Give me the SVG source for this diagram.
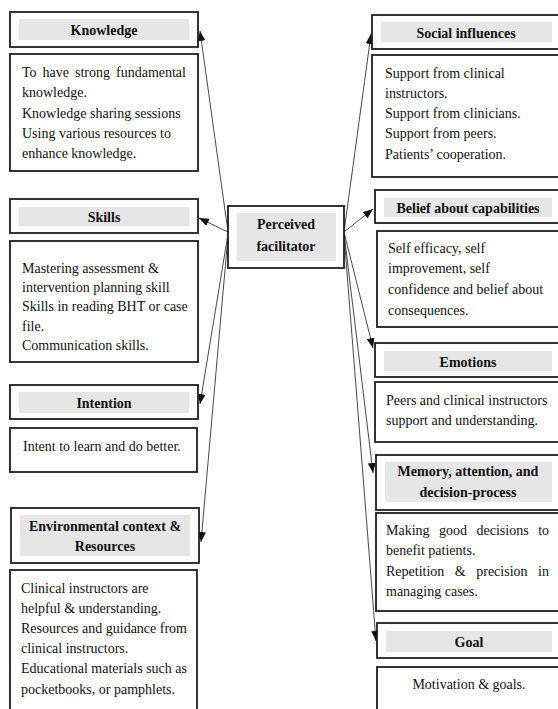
<svg xmlns="http://www.w3.org/2000/svg" width="558" height="709" viewBox="0 0 558 709">
<style>
.box{fill:#fff;stroke:#1e1e1e;stroke-width:1.8}
.band{fill:#e6e6e6;stroke:none}
.h{font-family:"Liberation Serif","Times New Roman",serif;font-size:14px;font-weight:bold;fill:#111;text-anchor:middle}
.t{font-family:"Liberation Serif","Times New Roman",serif;font-size:14px;fill:#111}
.c{text-anchor:middle}
.ln{stroke:#333;stroke-width:0.9;fill:none;marker-end:url(#ah)}
</style>
<defs>
<marker id="ah" markerUnits="userSpaceOnUse" markerWidth="11" markerHeight="9" refX="10" refY="4" orient="auto">
<path d="M0,0 L10,4 L0,8 z" fill="#111"/>
</marker>
</defs>
<rect width="558" height="709" fill="#fff"/>

<g id="connectors">
<path class="ln" d="M228,232 L200,31"/>
<path class="ln" d="M228,232 L199,218"/>
<path class="ln" d="M228,234 L200,404"/>
<path class="ln" d="M228,236 L201,542"/>
<path class="ln" d="M344,232 L371,34"/>
<path class="ln" d="M344,232 L373,209"/>
<path class="ln" d="M344,232 L373,348"/>
<path class="ln" d="M344,233 L373,473"/>
<path class="ln" d="M344,234 L376,641"/>
</g>

<g id="center">
<rect class="box" x="228" y="206" width="116" height="62"/>
<rect class="band" x="237" y="213" width="99" height="48"/>
<text class="h" x="286" y="229">Perceived</text>
<text class="h" x="286" y="251">facilitator</text>
</g>

<g id="knowledge">
<rect class="box" x="10" y="12" width="188" height="35"/>
<rect class="band" x="19" y="19" width="170" height="21"/>
<text class="h" x="104" y="35">Knowledge</text>
<rect class="box" x="10" y="54" width="188" height="117"/>
<text class="t" x="22" y="77" word-spacing="2.5">To have strong fundamental</text>
<text class="t" x="22" y="97">knowledge.</text>
<text class="t" x="22" y="118">Knowledge sharing sessions</text>
<text class="t" x="22" y="138">Using various resources to</text>
<text class="t" x="22" y="158">enhance knowledge.</text>
</g>

<g id="skills">
<rect class="box" x="10" y="199" width="188" height="34"/>
<rect class="band" x="19" y="207" width="170" height="19"/>
<text class="h" x="104" y="222">Skills</text>
<rect class="box" x="10" y="241" width="188" height="121"/>
<text class="t" x="22" y="273">Mastering assessment &amp;</text>
<text class="t" x="22" y="292">intervention planning skill</text>
<text class="t" x="22" y="311">Skills in reading BHT or case</text>
<text class="t" x="22" y="331">file.</text>
<text class="t" x="22" y="350">Communication skills.</text>
</g>

<g id="intention">
<rect class="box" x="10" y="385" width="188" height="34"/>
<rect class="band" x="19" y="392" width="170" height="21"/>
<text class="h" x="104" y="408">Intention</text>
<rect class="box" x="10" y="428" width="187" height="44"/>
<text class="t" x="23" y="451">Intent to learn and do better.</text>
</g>

<g id="environment">
<rect class="box" x="11" y="508" width="188" height="55"/>
<rect class="band" x="20" y="515" width="170" height="41"/>
<text class="h" x="105" y="531">Environmental context &amp;</text>
<text class="h" x="105" y="551">Resources</text>
<rect class="box" x="10" y="570" width="187" height="150"/>
<text class="t" x="21" y="593">Clinical instructors are</text>
<text class="t" x="21" y="613">helpful &amp; understanding.</text>
<text class="t" x="21" y="633">Resources and guidance from</text>
<text class="t" x="21" y="653">clinical instructors.</text>
<text class="t" x="21" y="673">Educational materials such as</text>
<text class="t" x="21" y="694">pocketbooks, or pamphlets.</text>
</g>

<g id="social">
<rect class="box" x="372" y="15" width="200" height="34"/>
<rect class="band" x="381" y="22" width="171" height="20"/>
<text class="h" x="466" y="38">Social influences</text>
<rect class="box" x="372" y="55" width="200" height="122"/>
<text class="t" x="385" y="78">Support from clinical</text>
<text class="t" x="385" y="98">instructors.</text>
<text class="t" x="385" y="118">Support from clinicians.</text>
<text class="t" x="385" y="138">Support from peers.</text>
<text class="t" x="385" y="159">Patients’ cooperation.</text>
</g>

<g id="belief">
<rect class="box" x="375" y="190" width="200" height="33"/>
<rect class="band" x="384" y="198" width="168" height="19"/>
<text class="h" x="468" y="213">Belief about capabilities</text>
<rect class="box" x="377" y="231" width="200" height="96"/>
<text class="t" x="388" y="253">Self efficacy, self</text>
<text class="t" x="388" y="273">improvement, self</text>
<text class="t" x="388" y="294">confidence and belief about</text>
<text class="t" x="388" y="315">consequences.</text>
</g>

<g id="emotions">
<rect class="box" x="375" y="343" width="200" height="34"/>
<rect class="band" x="384" y="351" width="168" height="20"/>
<text class="h" x="468" y="367">Emotions</text>
<rect class="box" x="375" y="382" width="200" height="60"/>
<text class="t" x="386" y="405">Peers and clinical instructors</text>
<text class="t" x="386" y="425">support and understanding.</text>
</g>

<g id="memory">
<rect class="box" x="376" y="455" width="200" height="55"/>
<rect class="band" x="385" y="462" width="167" height="40"/>
<text class="h" x="468" y="476">Memory, attention, and</text>
<text class="h" x="468" y="497">decision-process</text>
<rect class="box" x="376" y="513" width="200" height="98"/>
<text class="t" x="386" y="535" word-spacing="6">Making good decisions to</text>
<text class="t" x="386" y="555">benefit patients.</text>
<text class="t" x="386" y="576" word-spacing="7">Repetition &amp; precision in</text>
<text class="t" x="386" y="596">managing cases.</text>
</g>

<g id="goal">
<rect class="box" x="377" y="623" width="200" height="35"/>
<rect class="band" x="386" y="631" width="166" height="21"/>
<text class="h" x="469" y="647">Goal</text>
<rect class="box" x="377" y="667" width="200" height="60"/>
<text class="t c" x="469" y="689">Motivation &amp; goals.</text>
</g>
</svg>
